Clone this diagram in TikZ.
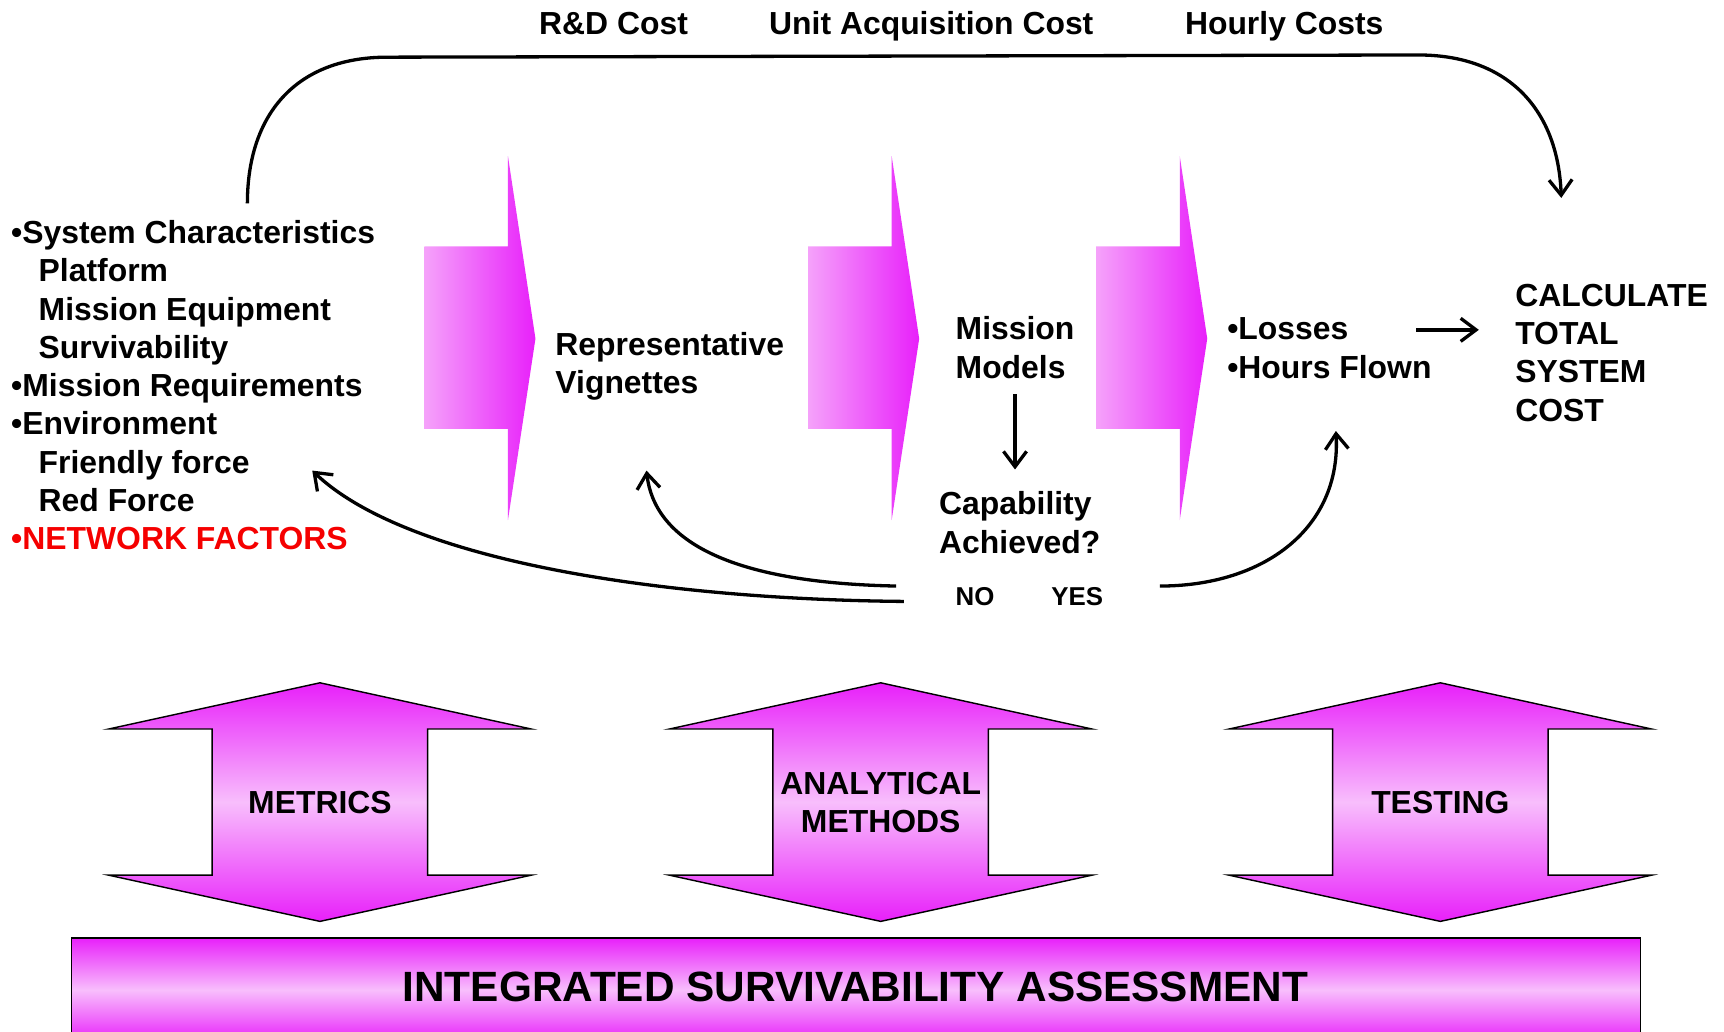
\documentclass[tikz,border=0pt]{standalone}
\usepackage{fontspec}
\setmainfont{Liberation Sans}
\usetikzlibrary{arrows.meta}
\definecolor{mag}{RGB}{232,32,250}
\definecolor{pinkL}{RGB}{245,162,250}
\definecolor{pinkM}{RGB}{248,190,252}
\definecolor{netred}{RGB}{245,0,0}
\begin{document}
\begin{tikzpicture}[x=1pt,y=-1pt,
  txt/.style={font=\fontsize{29}{34.8}\selectfont\bfseries, inner sep=0pt, align=left},
  small/.style={font=\fontsize{23.5}{28}\selectfont\bfseries, inner sep=0pt},
  big/.style={font=\fontsize{38.5}{45}\selectfont\bfseries, inner sep=0pt},
  conn/.style={line width=3pt, -{Straight Barb[length=14pt,width=21pt]}},
  fwdarrow/.style={left color=pinkL, right color=mag},
  dblarrow/.style={draw=black, line width=1.3pt, top color=mag, bottom color=mag, middle color=pinkM},
]
\useasboundingbox (0,0) rectangle (1568,938);

% forward block arrows of the process chain
\foreach \x in {386, 735, 997} {
  \shade[fwdarrow] (\x,224) -- ++(76,0) -- ++(0,-82) -- ++(25,166) -- ++(-25,165) -- ++(0,-83) -- ++(-76,0) -- cycle;
}

% input list (anchored at the baseline of its last line)
\node[txt, anchor=base west] (sys) at (10,500) {%
  •System Characteristics\\
  \hspace*{25pt}Platform\\
  \hspace*{25pt}Mission Equipment\\
  \hspace*{25pt}Survivability\\
  •Mission Requirements\\
  •Environment\\
  \hspace*{25pt}Friendly force\\
  \hspace*{25pt}Red Force\\
  \textcolor{netred}{•NETWORK FACTORS}};

% cost labels along the top
\node[txt, anchor=base] (rd) at (558,31) {R\&D Cost};
\node[txt, anchor=base] (uac) at (847,31) {Unit Acquisition Cost};
\node[txt, anchor=base] (hc) at (1168,31) {Hourly Costs};

% process stages
\node[txt, anchor=base west] (rv) at (505,358) {Representative\\Vignettes};
\node[txt, anchor=base west] (mm) at (869,344) {Mission\\Models};
\node[txt, anchor=base west] (ca) at (854,503) {Capability\\Achieved?};
\node[small, anchor=base west] (no) at (869,551) {NO};
\node[small, anchor=base west] (yes) at (956,551) {YES};
\node[txt, anchor=base west] (lh) at (1116,344) {•Losses\\•Hours Flown};
\node[txt, anchor=base west] (calc) at (1378,383) {CALCULATE\\TOTAL\\SYSTEM\\COST};

% cost path over the top
\coordinate (topstart) at (225,185);
\coordinate (costin) at (1420,180);
\draw[conn] (topstart) .. controls (225,105) and (268,53) .. (350,52) -- (1290,50) .. controls (1372,50) and (1417,100) .. (costin);

% models to capability check
\draw[conn, shorten <=14pt, shorten >=20pt] (mm.south) -- (mm.south |- ca.north);

% results to total cost
\coordinate (lossout) at (1288,300);
\coordinate (calcin) at (1345,300);
\draw[conn] (lossout) -- (calcin);

% feedback loops
\coordinate (noA) at (822,547);
\coordinate (sysin) at (284,428);
\draw[conn] (noA) .. controls (600,545) and (370,510) .. (sysin);
\coordinate (noB) at (815,533);
\coordinate (rvin) at (588,428);
\draw[conn] (noB) .. controls (660,530) and (595,490) .. (rvin);
\coordinate (yesA) at (1055,533);
\coordinate (lhin) at (1215,392);
\draw[conn] (yesA) .. controls (1150,533) and (1220,480) .. (lhin);

% two-way support arrows
\foreach \cx in {291, 801, 1310} {
  \shade[dblarrow] (\cx,621) -- (\cx+192,663) -- (\cx+98,663) -- (\cx+98,796) -- (\cx+192,796) -- (\cx,838) -- (\cx-192,796) -- (\cx-98,796) -- (\cx-98,663) -- (\cx-192,663) -- cycle;
}
\node[txt, align=center] (met) at (291,730) {METRICS};
\node[txt, align=center] (anm) at (801,730) {ANALYTICAL\\METHODS};
\node[txt, align=center] (tst) at (1310,730) {TESTING};

% base bar
\shade[dblarrow] (65,853) rectangle (1492,948);
\node[big] (isa) at (778,898) {INTEGRATED SURVIVABILITY ASSESSMENT};
\end{tikzpicture}
\end{document}
